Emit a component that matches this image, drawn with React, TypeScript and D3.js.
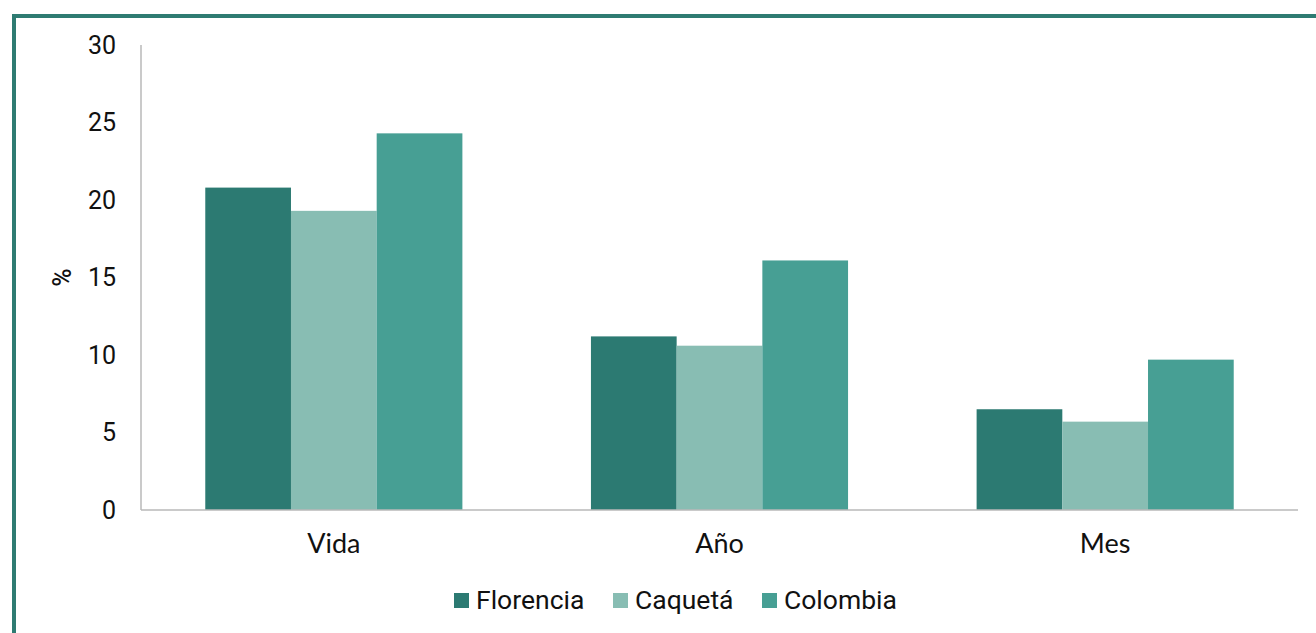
import React from "react";
import * as d3 from "d3";

const categories = ["Vida", "Año", "Mes"];
const seriesNames = ["Florencia", "Caquetá", "Colombia"];
const florencia = [20.8, 11.2, 6.5];
const caqueta = [19.3, 10.6, 5.7];
const colombia = [24.3, 16.1, 9.7];
const yTicks = [0, 5, 10, 15, 20, 25, 30];
const colors = ["#2c7a72", "#88bdb3", "#479f94"];

const W = 1316;
const H = 633;
const margin = { left: 141, right: 1298, top: 45, bottom: 510 };

export default function App() {
  const seriesValues = [florencia, caqueta, colombia];
  const x = d3.scaleBand<string>().domain(categories).range([margin.left, margin.right]).paddingInner(0).paddingOuter(0);
  const inner = d3
    .scaleBand<number>()
    .domain([0, 1, 2])
    .range([0, x.bandwidth()])
    .paddingOuter(0.75)
    .paddingInner(0);
  const y = d3.scaleLinear().domain([0, 30]).range([margin.bottom, margin.top]);

  const legendX = [454, 613, 762];

  return (
    <svg
      width={W}
      height={H}
      style={{ position: "absolute", left: 0, top: 0, background: "#fff" }}
    >
      <rect x={14} y={16} width={W + 20} height={H + 20} fill="none" stroke="#2e7b72" strokeWidth={4} />
      {categories.map((c, ci) =>
        seriesValues.map((vals, si) => (
          <rect
            key={c + si}
            x={(x(c) as number) + (inner(si) as number)}
            y={y(vals[ci])}
            width={inner.bandwidth()}
            height={y(0) - y(vals[ci])}
            fill={colors[si]}
          />
        ))
      )}
      <line x1={margin.left} x2={margin.left} y1={margin.top} y2={margin.bottom} stroke="#b8b8b8" strokeWidth={1.5} />
      <line x1={margin.left} x2={margin.right} y1={margin.bottom} y2={margin.bottom} stroke="#b8b8b8" strokeWidth={1.5} />
      {yTicks.map((t) => (
        <text
          key={t}
          x={116}
          y={y(t)}
          dy="0.35em"
          textAnchor="end"
          fontFamily="Roboto"
          fontSize={25}
          fill="#111"
        >
          {t}
        </text>
      ))}
      <text
        transform={`translate(62,${(margin.top + margin.bottom) / 2}) rotate(-90)`}
        textAnchor="middle"
        dy="0.35em"
        fontFamily="Roboto"
        fontWeight={500}
        fontSize={25}
        fill="#111"
      >
        %
      </text>
      {categories.map((c) => (
        <text
          key={c}
          x={(x(c) as number) + x.bandwidth() / 2}
          y={553}
          textAnchor="middle"
          fontFamily="Lato"
          fontSize={27}
          fill="#111"
        >
          {c}
        </text>
      ))}
      {seriesNames.map((s, i) => (
        <g key={s}>
          <rect x={legendX[i]} y={593} width={15} height={15} fill={colors[i]} />
          <text x={legendX[i] + 22} y={600} dy="0.35em" fontFamily="Roboto" fontSize={26.5} fill="#111">
            {s}
          </text>
        </g>
      ))}
    </svg>
  );
}
